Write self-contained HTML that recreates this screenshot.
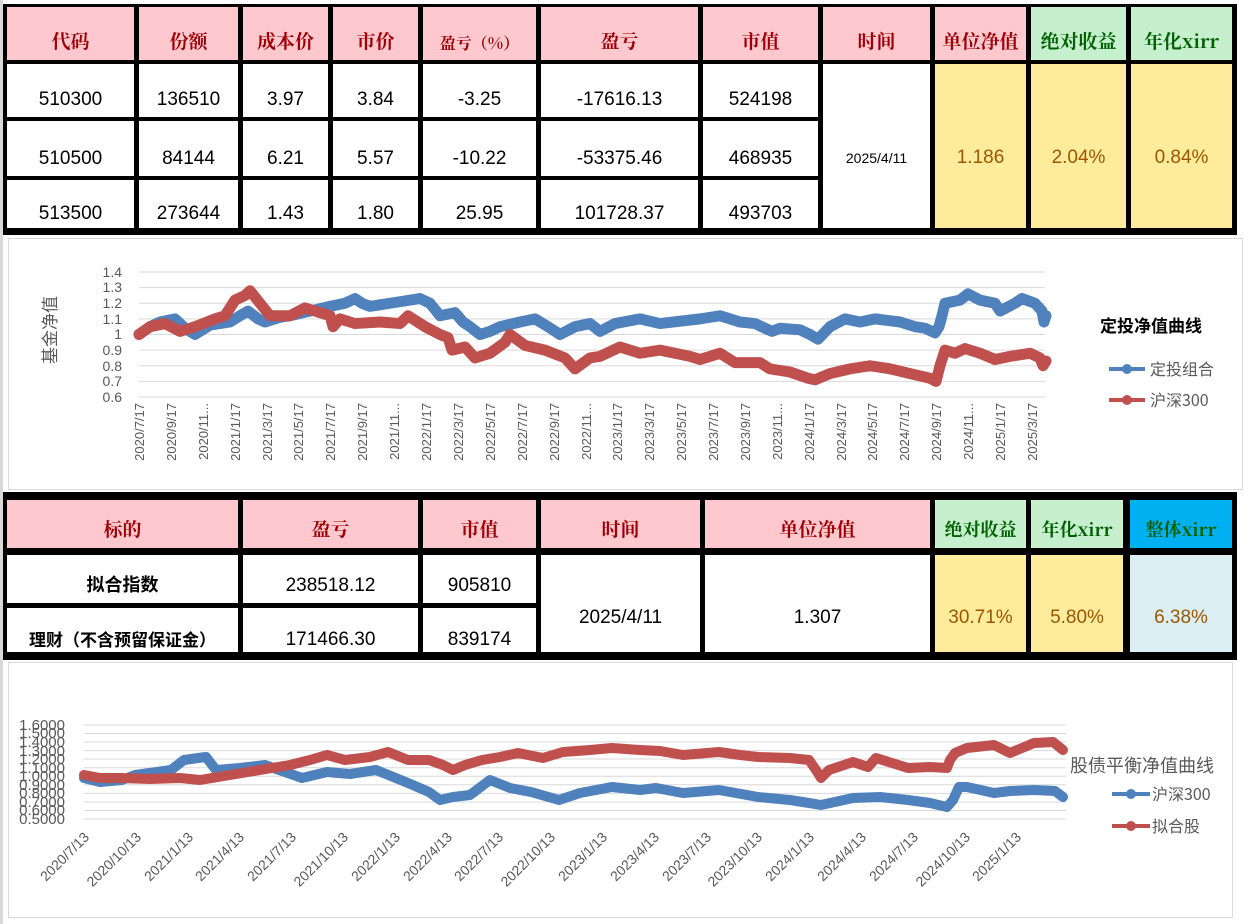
<!DOCTYPE html>
<html><head><meta charset="utf-8"><style>
*{margin:0;padding:0;box-sizing:border-box}
body{width:1258px;height:924px;background:#fff;position:relative;overflow:hidden;font-family:"Liberation Sans","Noto Sans CJK SC",sans-serif}
.blk{position:absolute;background:#000}
.c{position:absolute;display:flex;align-items:flex-end;justify-content:center;font-size:19px;color:#000;padding-bottom:6px;white-space:nowrap}
.h{background:#ffc7ce;color:#9c0006;font-family:"Noto Serif CJK SC","Noto Sans CJK SC",serif;font-weight:bold;font-size:19px}
.g{background:#c6efce;color:#006100;font-family:"Noto Serif CJK SC","Noto Sans CJK SC",serif;font-weight:bold;font-size:19px}
.b{background:#00b0f0;color:#006100;font-family:"Noto Serif CJK SC","Noto Sans CJK SC",serif;font-weight:bold;font-size:19px}
.w{background:#fff}
.y{background:#ffeb9c;color:#9c5700;align-items:center;padding:0}
.lb{background:#daeef3;color:#9c5700;align-items:center;padding:0}
.m{align-items:center;padding:0}
.t1{padding-top:24px}
.t2{padding-top:28px}
.box{position:absolute;border:1px solid #d9d9d9;background:#fff}
</style></head><body>
<div style="position:absolute;left:0;top:0;width:3px;height:924px;background:#d9d9d9"></div>
<!-- table 1 -->
<div class="blk" style="left:3px;top:4px;width:1234px;height:231px"></div>
<div class="c h" style="left:7px;top:7px;width:127px;height:53px">代码</div>
<div class="c h" style="left:139px;top:7px;width:99px;height:53px">份额</div>
<div class="c h" style="left:243px;top:7px;width:85px;height:53px">成本价</div>
<div class="c h" style="left:333px;top:7px;width:85px;height:53px">市价</div>
<div class="c h" style="left:423px;top:7px;width:113px;height:53px;font-size:16px">盈亏（%）</div>
<div class="c h" style="left:541px;top:7px;width:157px;height:53px">盈亏</div>
<div class="c h" style="left:703px;top:7px;width:115px;height:53px">市值</div>
<div class="c h" style="left:823px;top:7px;width:107px;height:53px">时间</div>
<div class="c h" style="left:935px;top:7px;width:91px;height:53px">单位净值</div>
<div class="c g" style="left:1031px;top:7px;width:95px;height:53px">绝对收益</div>
<div class="c g" style="left:1131px;top:7px;width:101px;height:53px">年化xirr</div>

<div class="c w" style="left:7px;top:64px;width:127px;height:53px">510300</div>
<div class="c w" style="left:139px;top:64px;width:99px;height:53px">136510</div>
<div class="c w" style="left:243px;top:64px;width:85px;height:53px">3.97</div>
<div class="c w" style="left:333px;top:64px;width:85px;height:53px">3.84</div>
<div class="c w" style="left:423px;top:64px;width:113px;height:53px">-3.25</div>
<div class="c w" style="left:541px;top:64px;width:157px;height:53px">-17616.13</div>
<div class="c w" style="left:703px;top:64px;width:115px;height:53px">524198</div>

<div class="c w" style="left:7px;top:121px;width:127px;height:55px">510500</div>
<div class="c w" style="left:139px;top:121px;width:99px;height:55px">84144</div>
<div class="c w" style="left:243px;top:121px;width:85px;height:55px">6.21</div>
<div class="c w" style="left:333px;top:121px;width:85px;height:55px">5.57</div>
<div class="c w" style="left:423px;top:121px;width:113px;height:55px">-10.22</div>
<div class="c w" style="left:541px;top:121px;width:157px;height:55px">-53375.46</div>
<div class="c w" style="left:703px;top:121px;width:115px;height:55px">468935</div>

<div class="c w" style="left:7px;top:180px;width:127px;height:48px;padding-bottom:3px">513500</div>
<div class="c w" style="left:139px;top:180px;width:99px;height:48px;padding-bottom:3px">273644</div>
<div class="c w" style="left:243px;top:180px;width:85px;height:48px;padding-bottom:3px">1.43</div>
<div class="c w" style="left:333px;top:180px;width:85px;height:48px;padding-bottom:3px">1.80</div>
<div class="c w" style="left:423px;top:180px;width:113px;height:48px;padding-bottom:3px">25.95</div>
<div class="c w" style="left:541px;top:180px;width:157px;height:48px;padding-bottom:3px">101728.37</div>
<div class="c w" style="left:703px;top:180px;width:115px;height:48px;padding-bottom:3px">493703</div>

<div class="c w m t1" style="left:823px;top:64px;width:107px;height:164px;font-size:14px">2025/4/11</div>
<div class="c y t1" style="left:935px;top:64px;width:91px;height:164px">1.186</div>
<div class="c y t1" style="left:1031px;top:64px;width:95px;height:164px">2.04%</div>
<div class="c y t1" style="left:1131px;top:64px;width:101px;height:164px">0.84%</div>

<!-- chart 1 -->
<div class="box" style="left:8px;top:238px;width:1235px;height:252px"></div>
<svg style="position:absolute;left:0;top:0" width="1258" height="924">
<g stroke="#d9d9d9" stroke-width="1">
<line x1="139" x2="1045" y1="272" y2="272"/><line x1="139" x2="1045" y1="287.6" y2="287.6"/><line x1="139" x2="1045" y1="303.2" y2="303.2"/><line x1="139" x2="1045" y1="318.9" y2="318.9"/><line x1="139" x2="1045" y1="334.5" y2="334.5"/><line x1="139" x2="1045" y1="350.1" y2="350.1"/><line x1="139" x2="1045" y1="365.8" y2="365.8"/><line x1="139" x2="1045" y1="381.4" y2="381.4"/><line x1="139" x2="1045" y1="397" y2="397"/>
</g>
<g font-size="14" fill="#595959" text-anchor="end" font-family="Liberation Sans,sans-serif">
<text x="122" y="277">1.4</text><text x="122" y="292">1.3</text><text x="122" y="308">1.2</text><text x="122" y="324">1.1</text><text x="122" y="339">1</text><text x="122" y="355">0.9</text><text x="122" y="371">0.8</text><text x="122" y="386">0.7</text><text x="122" y="402">0.6</text>
</g>
<text transform="translate(56,330) rotate(-90)" font-size="17" fill="#595959" text-anchor="middle" font-family="Noto Sans CJK SC,sans-serif">基金净值</text>
<g font-size="13" fill="#595959" text-anchor="end" font-family="Liberation Sans,sans-serif">
<text transform="translate(144,403) rotate(-90)">2020/7/17</text>
<text transform="translate(176,403) rotate(-90)">2020/9/17</text>
<text transform="translate(208,403) rotate(-90)">2020/11...</text>
<text transform="translate(240,403) rotate(-90)">2021/1/17</text>
<text transform="translate(272,403) rotate(-90)">2021/3/17</text>
<text transform="translate(303,403) rotate(-90)">2021/5/17</text>
<text transform="translate(335,403) rotate(-90)">2021/7/17</text>
<text transform="translate(367,403) rotate(-90)">2021/9/17</text>
<text transform="translate(399,403) rotate(-90)">2021/11...</text>
<text transform="translate(431,403) rotate(-90)">2022/1/17</text>
<text transform="translate(463,403) rotate(-90)">2022/3/17</text>
<text transform="translate(495,403) rotate(-90)">2022/5/17</text>
<text transform="translate(527,403) rotate(-90)">2022/7/17</text>
<text transform="translate(559,403) rotate(-90)">2022/9/17</text>
<text transform="translate(591,403) rotate(-90)">2022/11...</text>
<text transform="translate(622,403) rotate(-90)">2023/1/17</text>
<text transform="translate(654,403) rotate(-90)">2023/3/17</text>
<text transform="translate(686,403) rotate(-90)">2023/5/17</text>
<text transform="translate(718,403) rotate(-90)">2023/7/17</text>
<text transform="translate(750,403) rotate(-90)">2023/9/17</text>
<text transform="translate(782,403) rotate(-90)">2023/11...</text>
<text transform="translate(814,403) rotate(-90)">2024/1/17</text>
<text transform="translate(846,403) rotate(-90)">2024/3/17</text>
<text transform="translate(877,403) rotate(-90)">2024/5/17</text>
<text transform="translate(909,403) rotate(-90)">2024/7/17</text>
<text transform="translate(941,403) rotate(-90)">2024/9/17</text>
<text transform="translate(973,403) rotate(-90)">2024/11...</text>
<text transform="translate(1005,403) rotate(-90)">2025/1/17</text>
<text transform="translate(1037,403) rotate(-90)">2025/3/17</text>
</g>
<g transform="translate(0,490.75) scale(1,-156.25)" fill="none" stroke-linejoin="round" stroke-linecap="round">
<polyline vector-effect="non-scaling-stroke" stroke="#4f81bd" stroke-width="11" points="139,1.0 150,1.05 160,1.08 175,1.1 185,1.04 195,1.0 210,1.06 230,1.08 240,1.12 248,1.15 258,1.1 265,1.08 280,1.11 290,1.12 310,1.15 330,1.18 345,1.2 355,1.23 362,1.2 370,1.18 390,1.2 410,1.22 420,1.23 430,1.2 440,1.12 455,1.14 463,1.08 470,1.05 480,1.0 490,1.02 500,1.05 520,1.08 535,1.1 548,1.05 560,1.0 575,1.05 590,1.07 600,1.02 615,1.07 640,1.1 660,1.07 700,1.1 720,1.12 740,1.08 755,1.07 765,1.04 772,1.02 780,1.04 800,1.03 810,1.0 818,0.97 830,1.05 845,1.1 860,1.08 875,1.1 900,1.08 915,1.05 925,1.04 935,1.01 939,1.05 942,1.12 945,1.2 960,1.22 968,1.26 980,1.22 995,1.2 1000,1.15 1015,1.2 1022,1.23 1035,1.2 1042,1.15 1044,1.08 1046,1.12"/>
<polyline vector-effect="non-scaling-stroke" stroke="#c0504d" stroke-width="11" points="139,1.0 150,1.05 165,1.07 180,1.02 195,1.05 215,1.1 225,1.12 235,1.22 245,1.25 250,1.28 260,1.2 270,1.12 290,1.12 305,1.17 320,1.14 330,1.12 333,1.05 340,1.1 355,1.07 380,1.08 400,1.07 408,1.12 425,1.05 440,1.0 448,0.98 452,0.9 465,0.92 475,0.85 490,0.88 505,0.95 510,1.0 525,0.93 545,0.9 565,0.85 575,0.78 590,0.85 600,0.86 620,0.92 640,0.88 660,0.9 690,0.86 700,0.84 720,0.88 735,0.82 760,0.82 770,0.78 790,0.76 808,0.72 815,0.71 830,0.75 850,0.78 870,0.8 890,0.78 910,0.75 930,0.72 936,0.7 940,0.8 945,0.9 955,0.88 965,0.91 980,0.88 995,0.84 1010,0.86 1030,0.88 1040,0.85 1043,0.8 1046,0.83"/>
</g>
<text x="1100" y="332" font-size="17" font-weight="bold" fill="#000" font-family="Noto Sans CJK SC,sans-serif">定投净值曲线</text>
<line x1="1109" x2="1145" y1="369" y2="369" stroke="#4f81bd" stroke-width="4"/><circle cx="1127" cy="369" r="5" fill="#4f81bd"/>
<text x="1150" y="375" font-size="16" fill="#595959" font-family="Noto Sans CJK SC,sans-serif">定投组合</text>
<line x1="1109" x2="1145" y1="400" y2="400" stroke="#c0504d" stroke-width="4"/><circle cx="1127" cy="400" r="5" fill="#c0504d"/>
<text x="1150" y="406" font-size="16" fill="#595959" font-family="Noto Sans CJK SC,sans-serif">沪深300</text>
</svg>

<!-- table 2 -->
<div class="blk" style="left:3px;top:492px;width:1234px;height:168px"></div>
<div class="c h" style="left:7px;top:500px;width:231px;height:48px">标的</div>
<div class="c h" style="left:243px;top:500px;width:175px;height:48px">盈亏</div>
<div class="c h" style="left:423px;top:500px;width:113px;height:48px">市值</div>
<div class="c h" style="left:541px;top:500px;width:159px;height:48px">时间</div>
<div class="c h" style="left:705px;top:500px;width:225px;height:48px">单位净值</div>
<div class="c g" style="left:935px;top:500px;width:91px;height:48px;font-size:18px">绝对收益</div>
<div class="c g" style="left:1031px;top:500px;width:92px;height:48px;font-size:18px">年化xirr</div>
<div class="c b" style="left:1130px;top:500px;width:102px;height:48px;font-size:18px">整体xirr</div>

<div class="c w" style="left:7px;top:555px;width:231px;height:48px;font-weight:bold;font-size:18px">拟合指数</div>
<div class="c w" style="left:243px;top:555px;width:175px;height:48px">238518.12</div>
<div class="c w" style="left:423px;top:555px;width:113px;height:48px">905810</div>
<div class="c w" style="left:7px;top:608px;width:231px;height:44px;font-weight:bold;font-size:17px;padding-bottom:1px">理财（不含预留保证金）</div>
<div class="c w" style="left:243px;top:608px;width:175px;height:44px;padding-bottom:1px">171466.30</div>
<div class="c w" style="left:423px;top:608px;width:113px;height:44px;padding-bottom:1px">839174</div>
<div class="c w m t2" style="left:541px;top:555px;width:159px;height:97px">2025/4/11</div>
<div class="c w m t2" style="left:705px;top:555px;width:225px;height:97px">1.307</div>
<div class="c y t2" style="left:935px;top:555px;width:91px;height:97px">30.71%</div>
<div class="c y t2" style="left:1031px;top:555px;width:92px;height:97px">5.80%</div>
<div class="c lb t2" style="left:1130px;top:555px;width:102px;height:97px">6.38%</div>

<!-- chart 2 -->
<div class="box" style="left:8px;top:662px;width:1225px;height:256px"></div>
<svg style="position:absolute;left:0;top:0" width="1258" height="924">
<g stroke="#d9d9d9" stroke-width="1">
<line x1="84" x2="1066" y1="725" y2="725"/><line x1="84" x2="1066" y1="733.5" y2="733.5"/><line x1="84" x2="1066" y1="742" y2="742"/><line x1="84" x2="1066" y1="750.6" y2="750.6"/><line x1="84" x2="1066" y1="759" y2="759"/><line x1="84" x2="1066" y1="767.7" y2="767.7"/><line x1="84" x2="1066" y1="776.3" y2="776.3"/><line x1="84" x2="1066" y1="784.8" y2="784.8"/><line x1="84" x2="1066" y1="793.4" y2="793.4"/><line x1="84" x2="1066" y1="802" y2="802"/><line x1="84" x2="1066" y1="810.5" y2="810.5"/><line x1="84" x2="1066" y1="819" y2="819"/>
</g>
<g font-size="15" fill="#595959" text-anchor="end" font-family="Liberation Sans,sans-serif">
<text x="65" y="730">1.6000</text><text x="65" y="738">1.5000</text><text x="65" y="747">1.4000</text><text x="65" y="756">1.3000</text><text x="65" y="764">1.2000</text><text x="65" y="773">1.1000</text><text x="65" y="781">1.0000</text><text x="65" y="790">0.9000</text><text x="65" y="798">0.8000</text><text x="65" y="807">0.7000</text><text x="65" y="815">0.6000</text><text x="65" y="824">0.5000</text>
</g>
<g font-size="14" fill="#595959" text-anchor="end" font-family="Liberation Sans,sans-serif">
<text transform="translate(90,838) rotate(-45)">2020/7/13</text>
<text transform="translate(142,838) rotate(-45)">2020/10/13</text>
<text transform="translate(194,838) rotate(-45)">2021/1/13</text>
<text transform="translate(245,838) rotate(-45)">2021/4/13</text>
<text transform="translate(297,838) rotate(-45)">2021/7/13</text>
<text transform="translate(349,838) rotate(-45)">2021/10/13</text>
<text transform="translate(401,838) rotate(-45)">2022/1/13</text>
<text transform="translate(453,838) rotate(-45)">2022/4/13</text>
<text transform="translate(504,838) rotate(-45)">2022/7/13</text>
<text transform="translate(556,838) rotate(-45)">2022/10/13</text>
<text transform="translate(608,838) rotate(-45)">2023/1/13</text>
<text transform="translate(660,838) rotate(-45)">2023/4/13</text>
<text transform="translate(712,838) rotate(-45)">2023/7/13</text>
<text transform="translate(763,838) rotate(-45)">2023/10/13</text>
<text transform="translate(815,838) rotate(-45)">2024/1/13</text>
<text transform="translate(867,838) rotate(-45)">2024/4/13</text>
<text transform="translate(919,838) rotate(-45)">2024/7/13</text>
<text transform="translate(971,838) rotate(-45)">2024/10/13</text>
<text transform="translate(1022,838) rotate(-45)">2025/1/13</text>
</g>
<g fill="none" stroke-linejoin="round" stroke-linecap="round" stroke-width="10">
<polyline stroke="#4f81bd" points="84,778 100,782 122,780 135,775 171,770 184,760 198,758 206,757 216,770 240,768 265,765 285,772 302,778 327,772 350,774 376,770 408,783 429,792 440,800 453,797 470,795 490,780 510,788 531,792 559,800 580,793 612,787 640,790 656,788 683,793 719,790 758,797 790,800 809,803 821,805 853,798 880,797 908,800 930,803 947,807 953,800 959,787 967,787 994,793 1010,791 1034,790 1055,791 1063,797"/>
<polyline stroke="#c0504d" points="84,775 100,778 120,778 150,779 180,778 200,780 212,778 230,775 260,770 290,765 310,760 327,755 345,760 370,757 388,752 408,760 429,760 443,765 453,770 465,765 482,760 500,757 518,753 543,758 563,752 590,750 612,748 640,750 660,751 683,755 719,752 740,755 758,757 790,758 809,760 816,770 821,778 829,770 853,762 868,767 876,758 908,768 930,767 947,768 950,760 955,753 967,748 994,745 1010,753 1034,743 1053,742 1063,750"/>
</g>
<text x="1070" y="772" font-size="18" fill="#595959" font-family="Noto Sans CJK SC,sans-serif">股债平衡净值曲线</text>
<line x1="1112" x2="1150" y1="794" y2="794" stroke="#4f81bd" stroke-width="4"/><circle cx="1131" cy="794" r="5" fill="#4f81bd"/>
<text x="1152" y="800" font-size="16" fill="#595959" font-family="Noto Sans CJK SC,sans-serif">沪深300</text>
<line x1="1112" x2="1150" y1="826" y2="826" stroke="#c0504d" stroke-width="4"/><circle cx="1131" cy="826" r="5" fill="#c0504d"/>
<text x="1152" y="832" font-size="16" fill="#595959" font-family="Noto Sans CJK SC,sans-serif">拟合股</text>
</svg>
</body></html>
